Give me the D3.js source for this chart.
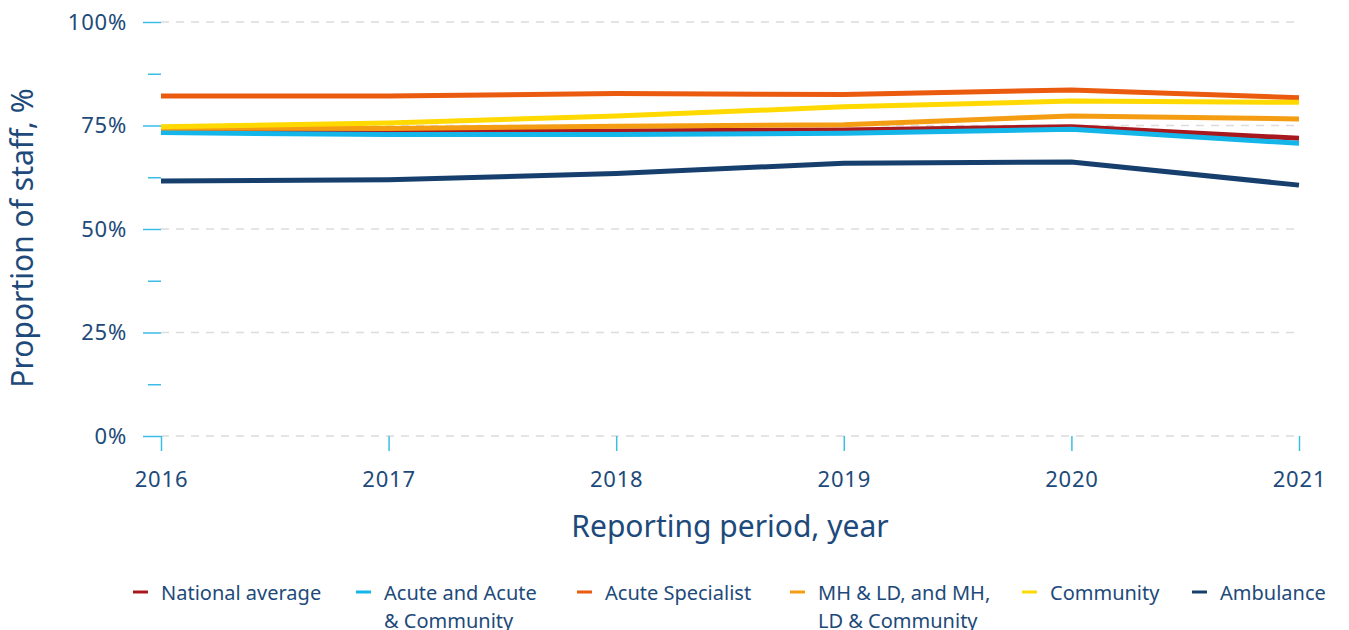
<!DOCTYPE html>
<meta charset="utf-8">
<style>
body { margin: 0; background: #fff; }
svg text { font-family: "Noto Sans", "Open Sans", sans-serif; fill: #1d4a7a; }
.grid line { stroke: #dcdcdc; stroke-width: 1.5; stroke-dasharray: 8,7; }
.tick line { stroke: #3cbde8; stroke-width: 1.5; }
.tick text { letter-spacing: 0.8px; }
</style>
<svg width="1349" height="630"></svg>
<script src="https://cdn.jsdelivr.net/npm/d3@7"></script>
<script>

var years = [2016, 2017, 2018, 2019, 2020, 2021];
var yTicks = [0, 25, 50, 75, 100];
var yMinor = [12.5, 37.5, 62.5, 87.5];

var seriesNames = ["National average", "Acute and Acute|& Community", "Acute Specialist",
  "MH & LD, and MH,|LD & Community", "Community", "Ambulance"];
var seriesColors = ["#a8191f", "#14b5e9", "#ea5a0f", "#f59d12", "#ffd900", "#163f6e"];

var national   = [73.7, 73.6, 73.7, 73.9, 74.7, 71.9];
var acute      = [73.3, 72.8, 72.8, 73.1, 74.1, 70.7];
var specialist = [82.1, 82.1, 82.7, 82.5, 83.6, 81.7];
var mhld       = [74.4, 74.3, 74.8, 75.2, 77.3, 76.6];
var community  = [74.7, 75.6, 77.3, 79.5, 80.9, 80.6];
var ambulance  = [61.6, 61.9, 63.4, 65.9, 66.2, 60.6];

var allSeries = [national, acute, specialist, mhld, community, ambulance];

var svg = d3.select("svg");
var plotL = 161, plotR = 1299, plotT = 22, plotB = 436;

var x = d3.scalePoint().domain(years).range([plotL, plotR]);
var y = d3.scaleLinear().domain([0, 100]).range([plotB, plotT]);

// grid
svg.append("g").attr("class", "grid").selectAll("line")
  .data(yTicks).enter().append("line")
  .attr("x1", plotL).attr("x2", plotR)
  .attr("y1", function(d){ return y(d); }).attr("y2", function(d){ return y(d); });

// y axis ticks
var ya = svg.append("g").attr("transform", "translate(" + plotL + ",0)")
  .call(d3.axisLeft(y).tickValues(yTicks).tickSize(18).tickPadding(16)
    .tickFormat(function(d){ return d + "%"; }));
ya.select(".domain").remove();
ya.selectAll("text").style("font-size", "22px");

var ym = svg.append("g").attr("transform", "translate(" + plotL + ",0)")
  .call(d3.axisLeft(y).tickValues(yMinor).tickSize(13).tickFormat(""));
ym.select(".domain").remove();

// x axis
var xa = svg.append("g").attr("transform", "translate(0," + plotB + ")")
  .call(d3.axisBottom(x).tickSize(15).tickPadding(20).tickFormat(d3.format("d")));
xa.select(".domain").remove();
xa.selectAll("text").style("font-size", "22px");

// lines
var line = d3.line().x(function(d, i){ return x(years[i]); }).y(function(d){ return y(d); });
svg.append("g").selectAll("path")
  .data(allSeries).enter().append("path")
  .attr("d", line)
  .attr("fill", "none")
  .attr("stroke", function(d, i){ return seriesColors[i]; })
  .attr("stroke-width", 5)
  .attr("stroke-linejoin", "round");

// axis titles
svg.append("text").attr("x", 730).attr("y", 537).attr("text-anchor", "middle")
  .style("font-size", "30px").text("Reporting period, year");
svg.append("text").attr("transform", "translate(33,238) rotate(-90)").attr("text-anchor", "middle")
  .style("font-size", "30px").text("Proportion of staff, %");

// legend
var legendX = [133, 356, 577, 790, 1022, 1192];
var lg = svg.append("g").selectAll("g")
  .data(seriesNames).enter().append("g")
  .attr("transform", function(d, i){ return "translate(" + legendX[i] + ",592)"; });
lg.append("line").attr("x1", 0).attr("x2", 15).attr("y1", 0).attr("y2", 0)
  .attr("stroke", function(d, i){ return seriesColors[i]; }).attr("stroke-width", 3);
lg.append("text").attr("x", 28).attr("y", 8).style("font-size", "20px")
  .selectAll("tspan").data(function(d){ return d.split("|"); }).enter().append("tspan")
  .attr("x", 28).attr("dy", function(d, i){ return i ? 28 : 0; })
  .text(function(d){ return d; });
</script>
